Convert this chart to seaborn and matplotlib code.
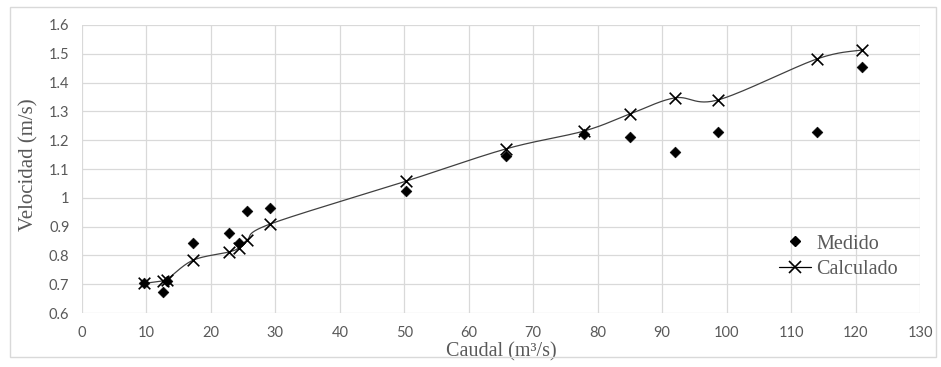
import numpy as np
import pandas as pd
import matplotlib
matplotlib.use("Agg")
import matplotlib.pyplot as plt
import seaborn as sns
from matplotlib.lines import Line2D
from matplotlib.patches import Rectangle

# Data
caudal = [9.7, 12.6, 13.2, 17.2, 22.8, 24.3, 25.6, 29.2, 50.3, 65.8, 77.9, 85.0, 92.0, 98.7, 114.0, 121.0]
medido = [0.703, 0.673, 0.710, 0.843, 0.878, 0.843, 0.954, 0.963, 1.024, 1.145, 1.222, 1.210, 1.160, 1.230, 1.230, 1.455]
calculado = [0.703, 0.712, 0.716, 0.783, 0.812, 0.826, 0.853, 0.909, 1.058, 1.170, 1.232, 1.291, 1.347, 1.340, 1.482, 1.513]
xticks = list(range(0, 131, 10))
yticks = [0.6, 0.7, 0.8, 0.9, 1.0, 1.1, 1.2, 1.3, 1.4, 1.5, 1.6]
yticklabels = ["0.6", "0.7", "0.8", "0.9", "1", "1.1", "1.2", "1.3", "1.4", "1.5", "1.6"]

df = pd.DataFrame({"Caudal": caudal, "Medido": medido, "Calculado": calculado})

sns.set_style("white")
plt.rcParams['font.family'] = ['Lato', 'DejaVu Sans']

fig = plt.figure(figsize=(9.41, 3.67), dpi=100)
ax = fig.add_axes([0.0871, 0.1471, 0.8906, 0.7848])

# Excel-like smoothed line (Bezier through points)
def smooth(xs, ys, n=30):
    pts = np.column_stack([xs, ys])
    out = []
    t = np.linspace(0, 1, n)
    for i in range(len(pts) - 1):
        p0 = pts[max(i - 1, 0)]
        p1 = pts[i]
        p2 = pts[i + 1]
        p3 = pts[min(i + 2, len(pts) - 1)]
        c1 = p1 + (p2 - p0) / 6.0
        c2 = p2 - (p3 - p1) / 6.0
        seg = ((1 - t) ** 3)[:, None] * p1 + (3 * (1 - t) ** 2 * t)[:, None] * c1 \
            + (3 * (1 - t) * t ** 2)[:, None] * c2 + (t ** 3)[:, None] * p2
        out.append(seg)
    arr = np.vstack(out)
    return arr[:, 0], arr[:, 1]

sx, sy = smooth(np.array(caudal), np.array(calculado))
ax.plot(sx, sy, color="#404040", lw=0.9, zorder=2)

sns.scatterplot(data=df, x="Caudal", y="Calculado", ax=ax, marker="x", s=70,
                color="black", linewidth=1.2, zorder=3, legend=False)
sns.scatterplot(data=df, x="Caudal", y="Medido", ax=ax, marker="D", s=30,
                color="black", edgecolor="black", zorder=4, legend=False)

ax.set_xlim(0, 130)
ax.set_ylim(0.6, 1.6)
ax.set_xticks(xticks)
ax.set_yticks(yticks)
ax.set_yticklabels(yticklabels)
ax.grid(True, color="#d9d9d9", lw=0.9)
for s in ax.spines.values():
    s.set_visible(False)
ax.tick_params(axis="both", length=0, colors="#595959", labelsize=10.5, pad=9)

serif = ['Liberation Serif', 'DejaVu Serif']
ax.set_xlabel("Caudal (m³/s)", family=serif, fontsize=14.5, color="#595959")
ax.set_ylabel("Velocidad (m/s)", family=serif, fontsize=15, color="#595959")
ax.xaxis.set_label_coords(0.5, -0.102)
ax.yaxis.set_label_coords(-0.052, 0.514)

handles = [
    Line2D([], [], marker="D", color="black", ls="none", markersize=5.5),
    Line2D([], [], marker="x", color="black", ls="-", lw=0.9, markersize=8, mew=1.2),
]
leg = ax.legend(handles, ["Medido", "Calculado"], loc="center left",
                bbox_to_anchor=(0.81, 0.196), frameon=False,
                prop={'family': serif, 'size': 14.5}, handlelength=1.6,
                handletextpad=0.25, labelspacing=0.3)
for t in leg.get_texts():
    t.set_color("#595959")

fig.patches.append(Rectangle((0.011, 0.027), 0.984, 0.954, transform=fig.transFigure,
                             fill=False, edgecolor="#d9d9d9", lw=1))

fig.savefig("out.png", dpi=100)
